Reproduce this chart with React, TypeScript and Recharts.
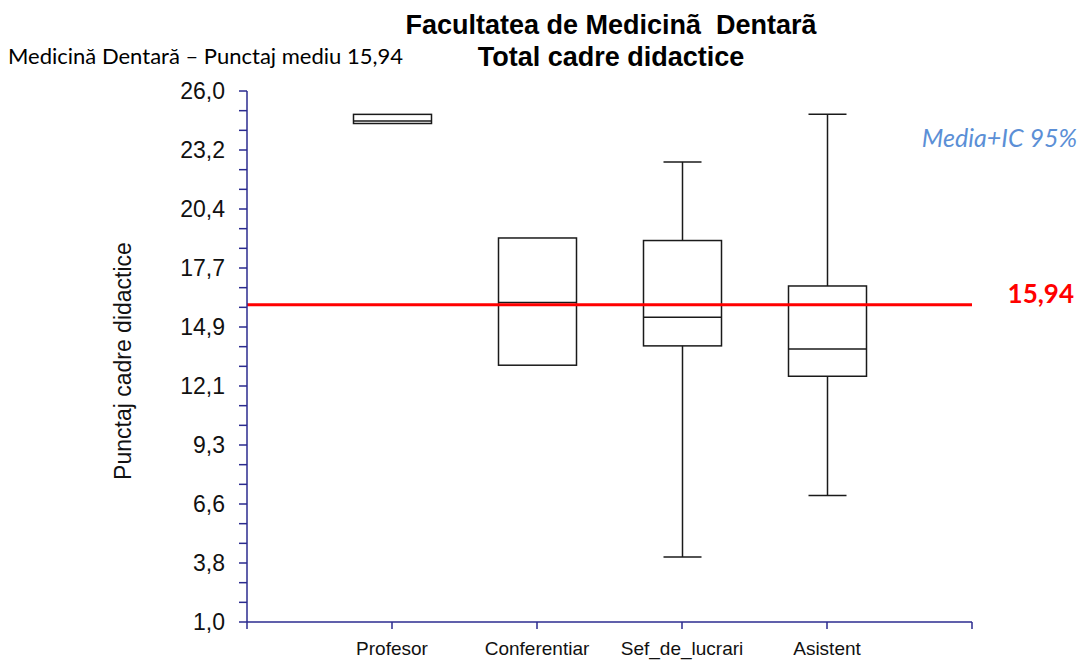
import React from 'react';
import { ComposedChart, Bar, XAxis, YAxis, ReferenceLine } from 'recharts';

// box plot values
const categories = ['Profesor', 'Conferentiar', 'Sef_de_lucrari', 'Asistent'];
const minValues = [24.47, 13.09, 4.06, 6.95];
const q1Values = [24.47, 13.09, 14.0, 12.57];
const medianValues = [24.59, 16.04, 15.35, 13.85];
const q3Values = [24.9, 19.08, 18.96, 16.82];
const maxValues = [24.9, 19.08, 22.66, 24.9];
const meanScore = 15.94;

const yTickLabels = ['1,0', '3,8', '6,6', '9,3', '12,1', '14,9', '17,7', '20,4', '23,2', '26,0'];
const yMin = 1;
const yMax = 26;
const minorPerMajor = 3;

const data = categories.map((name, i) => ({
  pos: i + 1,
  name,
  min: minValues[i],
  q1: q1Values[i],
  median: medianValues[i],
  q3: q3Values[i],
  max: maxValues[i],
}));

const tickCount = (yTickLabels.length - 1) * minorPerMajor + 1;
const yTicks = Array.from({ length: tickCount }, (_, i) => yMin + (i * (yMax - yMin)) / (tickCount - 1));
const xTicks = [0, 1, 2, 3, 4, 5];

const AXIS = '#2b2b8f';
const BOX = '#1a1a1a';
const FONT = "'Liberation Sans', Arial, sans-serif";
const SOFT = "Lato, 'Open Sans', sans-serif";

const span = (p: any) => {
  const top = Math.min(p.y, p.y + p.height);
  const bottom = Math.max(p.y, p.y + p.height);
  return { top, bottom, cx: p.x + p.width / 2 };
};

const BoxShape = (p: any) => {
  const { top, bottom } = span(p);
  return <rect x={p.x} y={top} width={p.width} height={bottom - top} fill="none" stroke={BOX} strokeWidth={1.5} />;
};

const MedianShape = (p: any) => {
  const { top } = span(p);
  return <line x1={p.x} x2={p.x + p.width} y1={top} y2={top} stroke={BOX} strokeWidth={1.5} />;
};

const UpperWhisker = (p: any) => {
  const { top, bottom, cx } = span(p);
  if (bottom - top < 1) return <g />;
  return (
    <g>
      <line x1={cx} x2={cx} y1={top} y2={bottom} stroke={BOX} strokeWidth={1.5} />
      <line x1={cx - 19} x2={cx + 19} y1={top} y2={top} stroke={BOX} strokeWidth={1.5} />
    </g>
  );
};

const LowerWhisker = (p: any) => {
  const { top, bottom, cx } = span(p);
  if (bottom - top < 1) return <g />;
  return (
    <g>
      <line x1={cx} x2={cx} y1={top} y2={bottom} stroke={BOX} strokeWidth={1.5} />
      <line x1={cx - 19} x2={cx + 19} y1={bottom} y2={bottom} stroke={BOX} strokeWidth={1.5} />
    </g>
  );
};

export default function App() {
  return (
    <div style={{ position: 'absolute', left: 0, top: 0, width: 1083, height: 662, background: '#fff' }}>
      <ComposedChart
        width={1083}
        height={662}
        data={data}
        margin={{ top: 91, right: 111, bottom: 10, left: 167 }}
        barSize={78}
        barGap={-78}
      >
        <XAxis
          dataKey="pos"
          type="number"
          domain={[0, 5]}
          ticks={xTicks}
          interval={0}
          tickFormatter={(v: number) => categories[v - 1] ?? ''}
          tick={{ fill: '#111', fontSize: 19, fontFamily: FONT }}
          axisLine={{ stroke: AXIS, strokeWidth: 1.5 }}
          tickLine={{ stroke: AXIS, strokeWidth: 1.5 }}
          tickSize={7}
          tickMargin={13}
          height={30}
        />
        <YAxis
          type="number"
          domain={[yMin, yMax]}
          ticks={yTicks}
          interval={0}
          allowDataOverflow
          tickFormatter={(v: number) => {
            const i = Math.round(((v - yMin) * (tickCount - 1)) / (yMax - yMin));
            return i % minorPerMajor === 0 ? yTickLabels[i / minorPerMajor] : '';
          }}
          tick={{ fill: '#111', fontSize: 23, fontFamily: FONT }}
          axisLine={{ stroke: AXIS, strokeWidth: 1.5 }}
          tickLine={{ stroke: AXIS, strokeWidth: 1.5 }}
          tickSize={8}
          tickMargin={14}
          width={80}
        />
        <Bar dataKey={(d: any) => [d.q1, d.q3]} shape={BoxShape} isAnimationActive={false} />
        <Bar dataKey={(d: any) => [d.q1, d.median]} shape={MedianShape} isAnimationActive={false} />
        <Bar dataKey={(d: any) => [d.q3, d.max]} shape={UpperWhisker} isAnimationActive={false} />
        <Bar dataKey={(d: any) => [d.min, d.q1]} shape={LowerWhisker} isAnimationActive={false} />
        <ReferenceLine y={meanScore} stroke="#ff0000" strokeWidth={3} ifOverflow="extendDomain" />
      </ComposedChart>

      <svg width={1083} height={662} style={{ position: 'absolute', left: 0, top: 0, pointerEvents: 'none' }}>
        <text
          x={611}
          y={34}
          textAnchor="middle"
          fontFamily={FONT}
          fontWeight="bold"
          fontSize={27}
          fill="#000"
          style={{ whiteSpace: 'pre' }}
        >
          {'Facultatea de Medicinã\u00a0 Dentarã'}
        </text>
        <text x={611} y={66} textAnchor="middle" fontFamily={FONT} fontWeight="bold" fontSize={27} fill="#000">
          Total cadre didactice
        </text>
        <text x={8} y={64} fontFamily={SOFT} fontSize={22} fill="#000">
          Medicină Dentară – Punctaj mediu 15,94
        </text>
        <text x={1077} y={147} textAnchor="end" fontFamily={SOFT} fontStyle="italic" fontSize={25} fill="#5b8fd6">
          Media+IC 95%
        </text>
        <text x={1074} y={303} textAnchor="end" fontFamily={SOFT} fontWeight="bold" fontSize={26} fill="#ff0000">
          15,94
        </text>
        <text
          x={131}
          y={361}
          textAnchor="middle"
          transform="rotate(-90 131 361)"
          fontFamily={FONT}
          fontSize={23}
          fill="#111"
        >
          Punctaj cadre didactice
        </text>
      </svg>
    </div>
  );
}
